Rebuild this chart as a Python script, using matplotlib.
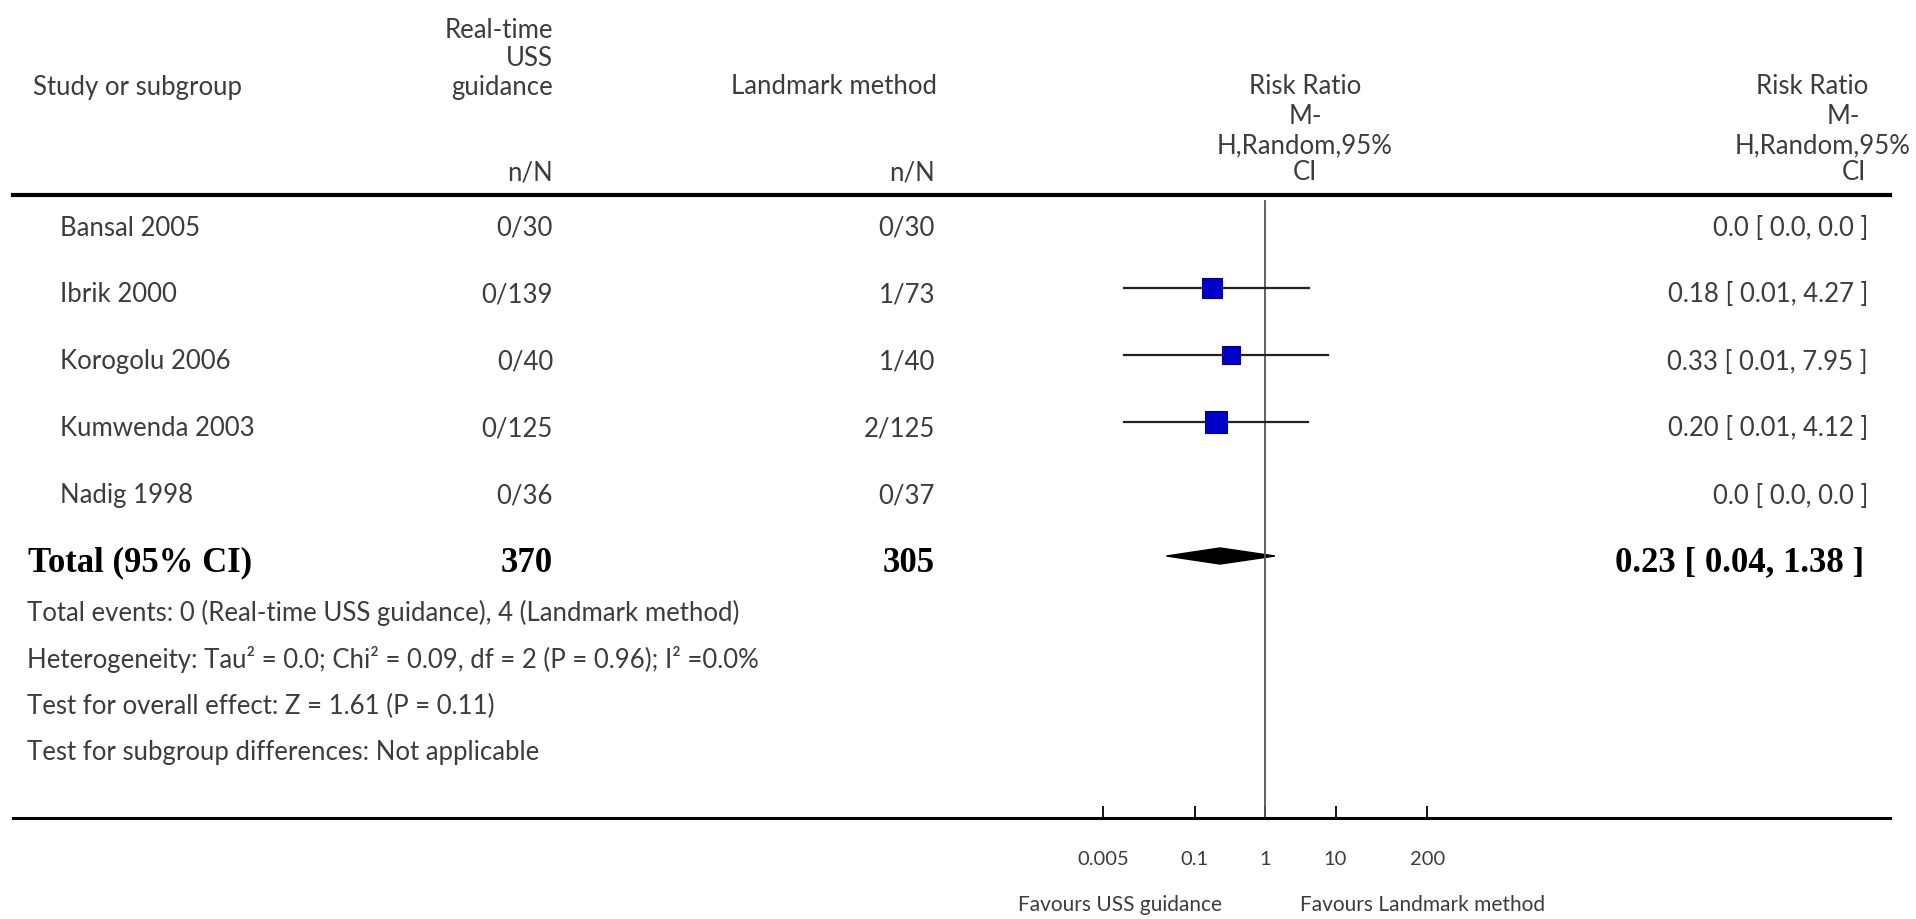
import numpy as np
from matplotlib import pyplot as plt
from matplotlib.lines import Line2D
from matplotlib.patches import Polygon

plt.rcParams['font.family'] = ['Lato', 'DejaVu Sans']

# data
studies = ['Bansal 2005', 'Ibrik 2000', 'Korogolu 2006', 'Kumwenda 2003', 'Nadig 1998']
uss = ['0/30', '0/139', '0/40', '0/125', '0/36']
landmark = ['0/30', '1/73', '1/40', '2/125', '0/37']
rr = [None, 0.18, 0.33, 0.20, None]
rr_low = [None, 0.01, 0.01, 0.01, None]
rr_high = [None, 4.27, 7.95, 4.12, None]
total_uss = 370
total_landmark = 305
total_rr = 0.23
total_low = 0.04
total_high = 1.38
ticks = [0.005, 0.1, 1, 10, 200]
tick_labels = ['0.005', '0.1', '1', '10', '200']
footnotes = [
    'Total events: 0 (Real-time USS guidance), 4 (Landmark method)',
    'Heterogeneity: Tau\u00b2 = 0.0; Chi\u00b2 = 0.09, df = 2 (P = 0.96); I\u00b2 =0.0%',
    'Test for overall effect: Z = 1.61 (P = 0.11)',
    'Test for subgroup differences: Not applicable',
]

# square sizes (points) for the study weights
square_size = [0, 14, 13, 16, 0]

W, H = 1916, 919
TXT = '#3c3c3c'
FS = 18.5


def fx(x):
    return x / W


def fy(y):
    return 1 - y / H


def put(x, y, s, ha='left', size=FS, **kw):
    kw.setdefault('color', TXT)
    fig.text(fx(x), fy(y), s, ha=ha, va='center', fontsize=size, **kw)


def fmt_rr(v, lo, hi):
    if v is None:
        return '0.0 [ 0.0, 0.0 ]'
    return '%.2f [ %.2f, %.2f ]' % (v, lo, hi)


fig = plt.figure(figsize=(W / 100, H / 100), dpi=100)

# header
put(33, 87, 'Study or subgroup')
put(553, 30, 'Real-time', ha='right')
put(553, 58, 'USS', ha='right')
put(553, 87, 'guidance', ha='right')
put(553, 173, 'n/N', ha='right')
put(937, 87, 'Landmark method', ha='right')
put(935, 173, 'n/N', ha='right')
for y, s in zip([87, 117, 146, 173], ['Risk Ratio', 'M-', 'H,Random,95%', 'CI']):
    put(1305, y, s, ha='center')
put(1868, 87, 'Risk Ratio', ha='right')
put(1860, 117, 'M-', ha='right')
put(1735, 146, 'H,Random,95%')
put(1866, 173, 'CI', ha='right')

fig.add_artist(Line2D([fx(13), fx(1890)], [fy(195), fy(195)], color='black', lw=3))
fig.add_artist(Line2D([fx(13), fx(1890)], [fy(818), fy(818)], color='black', lw=2.2))

# study rows
row_gap = 67
for i in range(len(studies)):
    y = 228 + row_gap * i
    put(60, y, studies[i])
    put(553, y, uss[i], ha='right')
    put(935, y, landmark[i], ha='right')
    put(1868, y, fmt_rr(rr[i], rr_low[i], rr_high[i]), ha='right')

y_tot = 228 + row_gap * len(studies)
serif = dict(family=['Liberation Serif', 'DejaVu Serif'], weight='bold', color='black', size=25)
put(28, y_tot, 'Total (95% CI)', **serif)
put(553, y_tot, str(total_uss), ha='right', **serif)
put(935, y_tot, str(total_landmark), ha='right', **serif)
put(1864, y_tot, fmt_rr(total_rr, total_low, total_high), ha='right', **serif)

for k, s in enumerate(footnotes):
    put(27, 613 + 46.5 * k, s)

# forest panel, log scale, 1 at x=1265, ~70.5 px per decade
per_dec = 70.5
left = 1265 - 3 * per_dec
ax = fig.add_axes([fx(left), fy(818), 6 * per_dec / W, (818 - 195) / H])
ax.set_xscale('log')
ax.set_xlim(1e-3, 1e3)
ax.set_ylim((818 - 221) / row_gap, (195 - 221) / row_gap)
ax.patch.set_alpha(0)
for sp in ax.spines.values():
    sp.set_visible(False)

ax.axvline(1, ymin=0, ymax=0.99, color='#555555', lw=1.3)

for i in range(len(studies)):
    if rr[i] is None:
        continue
    ax.plot([rr_low[i], rr_high[i]], [i, i], color='#222222', lw=1.6)
    ax.plot(rr[i], i, marker='s', ms=square_size[i], color='#0000c8',
            markeredgecolor='#000080', markeredgewidth=0.8)

n = len(studies)
diamond = Polygon([[total_low, n], [total_rr, n - 0.12], [total_high, n], [total_rr, n + 0.12]],
                  closed=True, color='black')
ax.add_patch(diamond)

ax.set_xticks(ticks)
ax.set_xticklabels(tick_labels)
ax.minorticks_off()
ax.tick_params(axis='x', direction='in', length=9, width=1.3, pad=24,
               labelsize=14.5, labelcolor=TXT)
ax.set_yticks([])

put(1018, 905, 'Favours USS guidance', size=15)
put(1300, 905, 'Favours Landmark method', size=15)

fig.savefig('out.png', dpi=100)
